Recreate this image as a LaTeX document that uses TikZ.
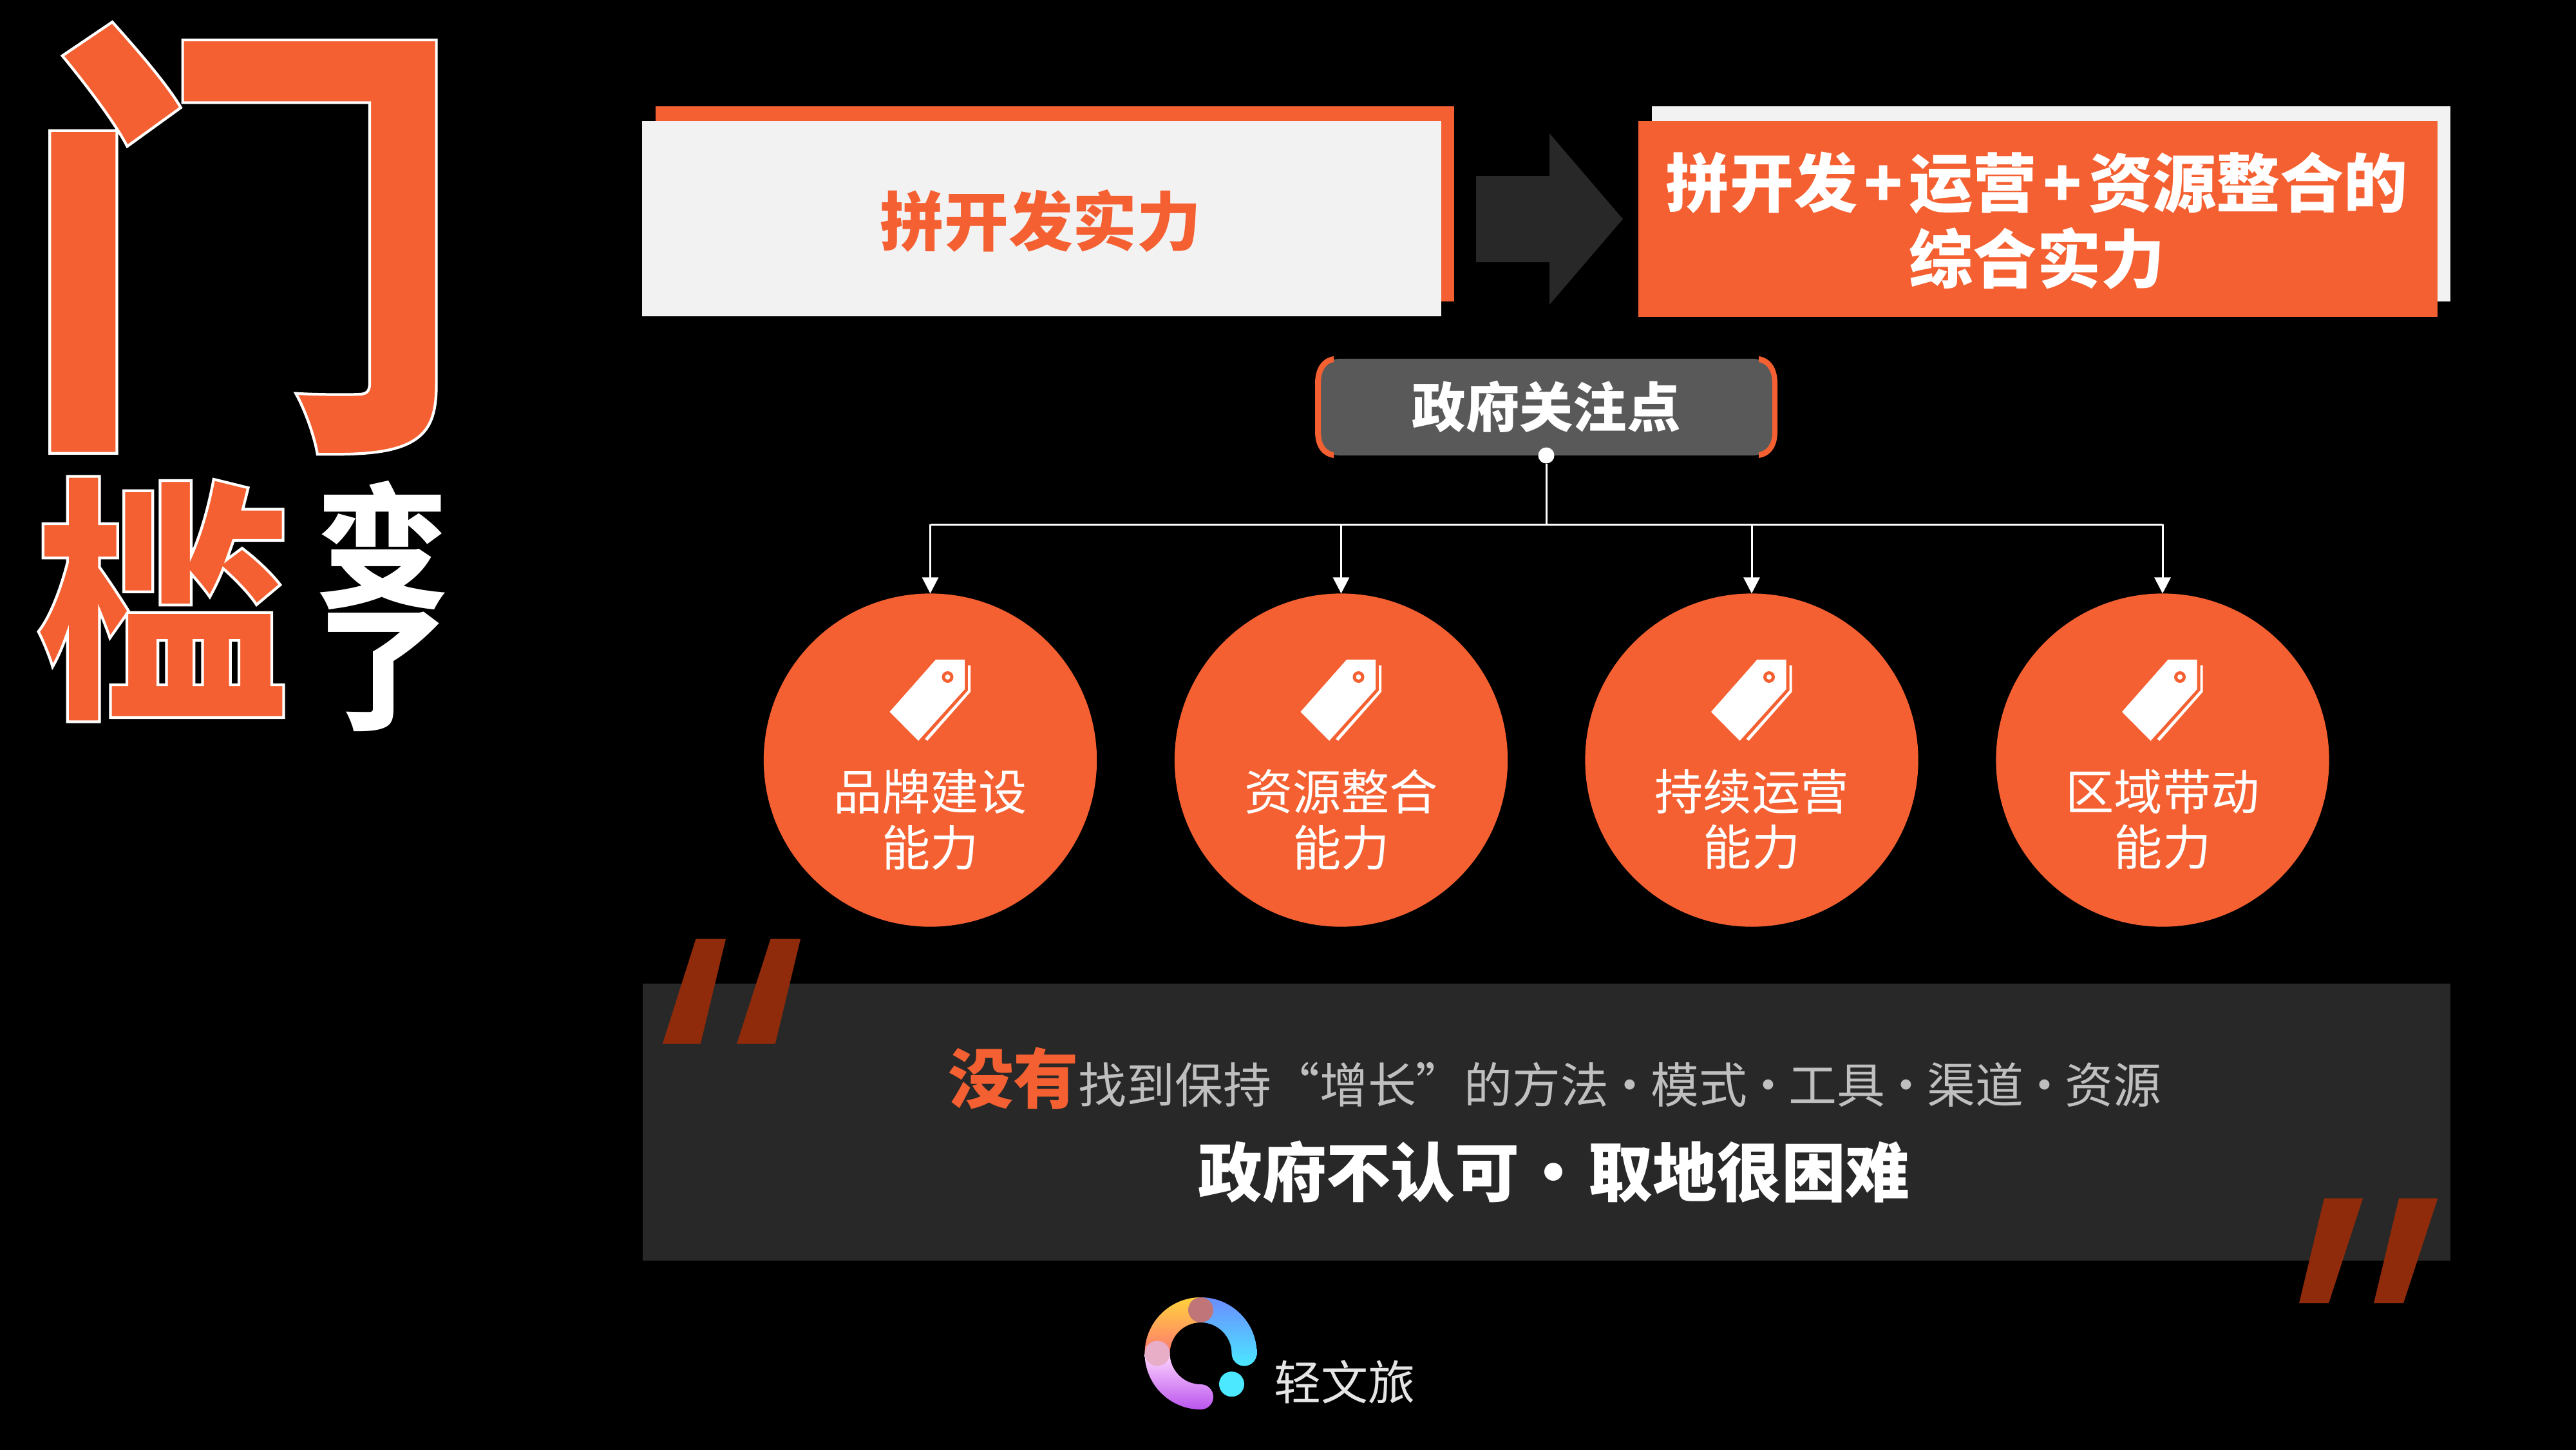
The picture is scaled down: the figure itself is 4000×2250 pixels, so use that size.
\documentclass[tikz,border=0pt]{standalone}
\usepackage{fontspec}
\usetikzlibrary{arrows.meta,calc}
\setmainfont{Noto Sans CJK SC}
\newfontfamily\cjkr{Noto Sans CJK SC}
\IfFontExistsTF{Noto Sans CJK SC Black}{\newfontfamily\cjkb{Noto Sans CJK SC Black}}{\newfontfamily\cjkb[FakeBold=1.2]{Noto Sans CJK SC Bold}}
\definecolor{org}{HTML}{F46031}
\definecolor{offw}{HTML}{F2F2F2}
\definecolor{panel}{HTML}{282828}
\definecolor{govg}{HTML}{595959}
\definecolor{quo}{HTML}{8F2B0A}
\definecolor{lgray}{HTML}{BFBFBF}
\definecolor{Blue1}{HTML}{6B8CFF}
\definecolor{Blue2}{HTML}{4BE8FF}
\definecolor{Yel}{HTML}{FFD23C}
\definecolor{Cor}{HTML}{FF7A70}
\definecolor{Pur1}{HTML}{FFD8FF}
\definecolor{Pur2}{HTML}{BB55EE}
\definecolor{logoA}{HTML}{C07578}
\definecolor{logoB}{HTML}{E8AEC8}
\newcommand{\fpx}[2]{\fontsize{#1pt}{#2pt}\selectfont}
\newcommand{\dotsp}{\kern-.068em·\kern-.068em}
% fill orange, stroke white text
\newcommand{\outl}[1]{\special{pdf:code q 2 Tr 1.2 w 1 1 1 RG}#1\special{pdf:code Q}}
\tikzset{
  txt/.style={inner sep=0pt,outer sep=0pt,align=center},
  capcircle/.style={circle,fill=org,minimum size=5.17cm,inner sep=0pt,outer sep=0pt},
  wire/.style={draw=white,line width=0.03cm},
  arr/.style={wire,-{Triangle[length=0.25cm,width=0.25cm,fill=white]}},
  pnl/.style={fill=panel},
  quote/.style={fill=quo},
  circlabel/.style={txt,text=white,font=\cjkr\fpx{21.4}{24.7}},
}
\newcommand{\tagicon}[1]{%
 \begin{scope}[shift={(#1)}]
  \fill[white] (8.5,-156)--(53.5,-156)--(53.5,-110)--(-18.5,-30)--(-63,-75)--cycle;
  \fill[white] (58.5,-147)--(62.5,-147)--(62.5,-106)--(-4.5,-30)--(-8.5,-33)--(58.5,-108)--cycle;
  \fill[org] (27,-129) circle[radius=0.09cm];
  \fill[white] (27,-129) circle[radius=0.04cm];
 \end{scope}}
\begin{document}
\begin{tikzpicture}[x=0.01cm,y=-0.01cm]
\useasboundingbox (0,0) rectangle (4000,2250);
\fill[black] (-10,-10) rectangle (4010,2260);
% title
\node[txt,text=org,font=\cjkb\fpx{199}{199}] (men) at (376,370) {\outl{门}};
\node[txt,text=org,font=\cjkb\fpx{114}{114}] (kan) at (252,930) {\outl{槛}};
\node[txt,text=white,font=\cjkb\fpx{59}{59}] (bian) at (594,846) {变};
\node[txt,text=white,font=\cjkb\fpx{59}{59}] (le) at (594,1043) {了};
% top boxes
\fill[org] (1018,165) rectangle (2258,468);
\fill[offw] (997,188) rectangle (2238,491);
\node[txt,text=org,font=\cjkb\fpx{28.4}{28.4}] (a) at (1616,343) {拼开发实力};
\fill[panel] (2292,273)--(2406,273)--(2406,207)--(2520,340)--(2406,473)--(2406,407)--(2292,407)--cycle;
\fill[offw] (2565,165) rectangle (3805,468);
\fill[org] (2544,188) rectangle (3785,492);
\node[txt,text=white,font=\cjkb\fpx{28.2}{33.5}] (b) at (3163,343) {拼开发\kern.1em+\kern.1em运营\kern.1em+\kern.1em资源整合的\\综合实力};
% gov
\node[txt,fill=govg,rounded corners=0.3cm,minimum width=7.02cm,minimum height=1.5cm,text=white,font=\cjkb\fpx{23.7}{23.7}] (gov) at (2401,632) {政府关注点};
\fill[org] (2071,553) .. controls (2052,556) and (2042,572) .. (2042,595) -- (2042,670) .. controls (2042,693) and (2052,708) .. (2071,711) -- (2071,702) .. controls (2059,700) and (2051,690) .. (2051,670) -- (2051,595) .. controls (2051,575) and (2059,564) .. (2071,562) -- cycle;
\fill[org] (2731,553) .. controls (2750,556) and (2760,572) .. (2760,595) -- (2760,670) .. controls (2760,693) and (2750,708) .. (2731,711) -- (2731,702) .. controls (2743,700) and (2752,690) .. (2752,670) -- (2752,595) .. controls (2752,575) and (2743,564) .. (2731,562) -- cycle;
\node[circle,fill=white,minimum size=0.25cm,inner sep=0pt] (dot) at (2401,707) {};
\coordinate (bus) at (2401,814);
% circles
\foreach \n/\cx/\la/\lb in {1/1444.5/品牌建设/能力,2/2082.5/资源整合/能力,3/2720/持续运营/能力,4/3358/区域带动/能力}{
  \node[capcircle] (c\n) at (\cx,1180) {};
  \tagicon{\cx,1180}
  \node[circlabel] (l\n) at (\cx,1272) {\la\\\lb};
}
\draw[wire] (dot) -- (bus);
\draw[wire] (c1.north|-bus) -- (c4.north|-bus);
\foreach \n in {1,2,3,4}{\draw[arr] (c\n.north|-bus) -- (c\n.north);}
% panel
\fill[pnl] (997.5,1526.5) rectangle (3805,1957);
\fill[quote] (1080.5,1457.5)--(1127,1457.5)--(1087.7,1620.7)--(1028.8,1620.7)--cycle;
\fill[quote] (1196.6,1457.5)--(1243,1457.5)--(1203.7,1620.7)--(1144,1620.7)--cycle;
\fill[quote] (3609,1860.3)--(3669,1860.3)--(3616,2023)--(3570,2023)--cycle;
\fill[quote] (3725,1860.3)--(3785.3,1860.3)--(3732,2023)--(3686,2023)--cycle;
\node[txt,anchor=base west,text=lgray,font=\cjkr\fpx{21.3}{21.3}] (p1) at (1472,1712) {{\cjkb\fpx{28.8}{28.8}\color{org}没有}找到保持“增长”的方法\dotsp 模式\dotsp 工具\dotsp 渠道\dotsp 资源};
\node[txt,text=white,font=\cjkb\fpx{28.4}{28.4}] (p2) at (2413,1819) {政府不认可\makebox[1.07cm]{•}取地很困难};
% logo
\begin{scope}[shift={(1864.5,2101)},x=0.01cm,y=0.01cm]
 \shade[top color=Blue1,bottom color=Blue2] (0,87) arc[start angle=90,end angle=0,radius=.87cm] arc[start angle=0,end angle=-180,radius=.195cm] arc[start angle=0,end angle=90,radius=.48cm] -- cycle;
 \shade[left color=Yel,right color=Cor,shading angle=0] (-87,0) arc[start angle=180,end angle=90,radius=.87cm] -- (0,48) arc[start angle=90,end angle=180,radius=.48cm] -- cycle;
 \shade[top color=Pur1,bottom color=Pur2] (-87,0) arc[start angle=180,end angle=270,radius=.87cm] arc[start angle=-90,end angle=90,radius=.195cm] arc[start angle=270,end angle=180,radius=.48cm] -- cycle;
 \fill[logoA] (0,67.5) circle[radius=.195cm];
 \fill[logoB] (-67.5,0) circle[radius=.195cm];
 \fill[Blue2] (48,-47.7) circle[radius=.195cm];
\end{scope}
\node[txt,text=white!90!black,font=\cjkr\fpx{20.8}{20.8}] (logo) at (2088,2145) {轻文旅};
\end{tikzpicture}
\end{document}
